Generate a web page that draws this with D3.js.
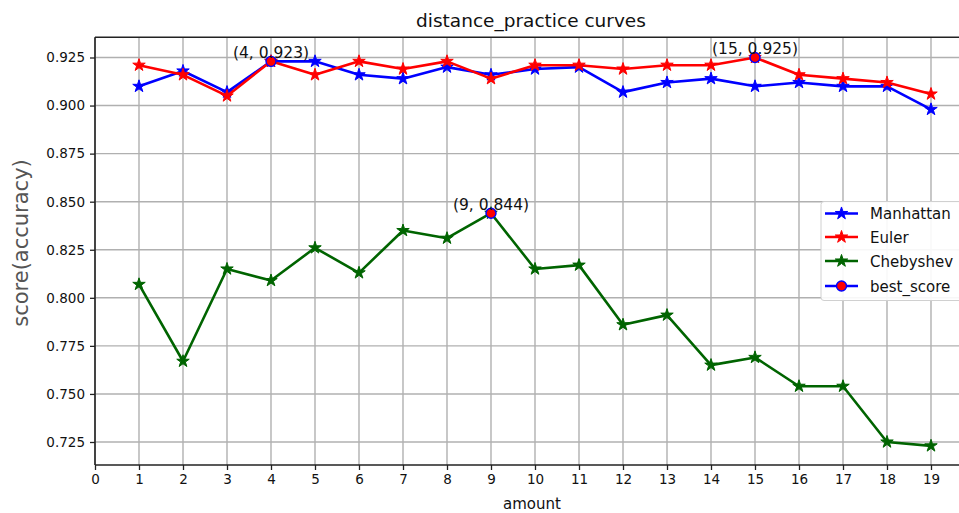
<!DOCTYPE html>
<html>
<head>
<meta charset="utf-8">
<script src="https://cdn.jsdelivr.net/npm/d3@7"></script>
<style>
  html, body { margin: 0; padding: 0; background: #fff; }
  svg { display: block; font-family: "DejaVu Sans", sans-serif; }
</style>
</head>
<body>
<svg id="chart" width="959" height="513"></svg>
<script>
// ---- data ----
const amounts = [1,2,3,4,5,6,7,8,9,10,11,12,13,14,15,16,17,18,19];
const manhattan = [0.910,0.918,0.907,0.923,0.923,0.916,0.914,0.920,0.916,0.919,0.920,0.907,0.912,0.914,0.910,0.912,0.910,0.910,0.898];
const euler     = [0.921,0.916,0.905,0.923,0.916,0.923,0.919,0.923,0.914,0.921,0.921,0.919,0.921,0.921,0.925,0.916,0.914,0.912,0.906];
const chebyshev = [0.807,0.767,0.815,0.809,0.826,0.813,0.835,0.831,0.844,0.815,0.817,0.786,0.791,0.765,0.769,0.754,0.754,0.725,0.723];
const bestX = [4, 15, 9];
const bestY = [0.923, 0.925, 0.844];
const xTicks = [0,1,2,3,4,5,6,7,8,9,10,11,12,13,14,15,16,17,18,19];
const yTicks = [0.725,0.750,0.775,0.800,0.825,0.850,0.875,0.900,0.925];
const seriesNames = ["Manhattan", "Euler", "Chebyshev"];
const seriesColors = ["#0000ff", "#ff0000", "#006400"];

// ---- layout ----
const svg = d3.select("#chart");
const plotLeft = 95, plotTop = 37.3, plotBottom = 465, plotRight = 971;

const x = d3.scaleLinear().domain([0, 19]).range([95, 931]);
const y = d3.scaleLinear().domain([0.725, 0.925]).range([442, 57.5]);

// grid
const grid = svg.append("g");
grid.selectAll("line.vx").data(xTicks).enter().append("line")
  .attr("x1", d => x(d)).attr("x2", d => x(d))
  .attr("y1", plotTop).attr("y2", plotBottom)
  .attr("stroke", "#b0b0b0").attr("stroke-width", 1.4);
grid.selectAll("line.hy").data(yTicks).enter().append("line")
  .attr("x1", plotLeft).attr("x2", plotRight)
  .attr("y1", d => y(d)).attr("y2", d => y(d))
  .attr("stroke", "#b0b0b0").attr("stroke-width", 1.4);

// axes
const xAxis = d3.axisBottom(x).tickValues(xTicks).tickSize(5).tickPadding(4).tickFormat(d3.format("d"));
const yAxis = d3.axisLeft(y).tickValues(yTicks).tickSize(5).tickPadding(5).tickFormat(d3.format(".3f"));

const gx = svg.append("g").attr("transform", `translate(0,${plotBottom})`).call(xAxis);
const gy = svg.append("g").attr("transform", `translate(${plotLeft},0)`).call(yAxis);
[gx, gy].forEach(g => {
  g.select(".domain").remove();
  g.selectAll(".tick line").attr("stroke", "#222").attr("stroke-width", 1.3);
  g.selectAll(".tick text").attr("fill", "#111").style("font-size", "13.5px")
    .style("font-family", "'DejaVu Sans', sans-serif");
});

// spines
svg.append("line").attr("x1", plotLeft).attr("x2", plotRight).attr("y1", plotBottom).attr("y2", plotBottom)
  .attr("stroke", "#222").attr("stroke-width", 1.6);
svg.append("line").attr("x1", plotLeft).attr("x2", plotRight).attr("y1", plotTop).attr("y2", plotTop)
  .attr("stroke", "#222").attr("stroke-width", 1.6);
svg.append("line").attr("x1", plotLeft).attr("x2", plotLeft).attr("y1", plotTop).attr("y2", plotBottom)
  .attr("stroke", "#222").attr("stroke-width", 1.6);

// series
const star = d3.symbol().type(d3.symbolStar).size(48);
const line = d3.line().x((d, i) => x(amounts[i])).y(d => y(d));
[manhattan, euler, chebyshev].forEach((vals, si) => {
  const col = seriesColors[si];
  svg.append("path").datum(vals).attr("d", line)
    .attr("fill", "none").attr("stroke", col).attr("stroke-width", 2.6)
    .attr("stroke-linejoin", "round");
  svg.append("g").selectAll("path").data(vals).enter().append("path")
    .attr("d", star)
    .attr("transform", (d, i) => `translate(${x(amounts[i])},${y(d)})`)
    .attr("fill", col).attr("stroke", col).attr("stroke-width", 1);
});

// best score points
svg.append("g").selectAll("circle").data(bestX).enter().append("circle")
  .attr("cx", d => x(d)).attr("cy", (d, i) => y(bestY[i]))
  .attr("r", 5).attr("fill", "#ff0000").attr("stroke", "#0000ff").attr("stroke-width", 1.4);
svg.append("g").selectAll("text").data(bestX).enter().append("text")
  .attr("x", d => x(d)).attr("y", (d, i) => y(bestY[i]) - 3.5)
  .attr("text-anchor", "middle").style("font-size", "15.5px").attr("fill", "#111")
  .text((d, i) => `(${d}, ${bestY[i].toFixed(3)})`);

// title & labels
svg.append("text").attr("x", 531).attr("y", 26.5).attr("text-anchor", "middle")
  .style("font-size", "18.5px").attr("fill", "#111").text("distance_practice curves");
svg.append("text").attr("x", 532).attr("y", 509).attr("text-anchor", "middle")
  .style("font-size", "15px").attr("fill", "#111").text("amount");
svg.append("text").attr("transform", "translate(28,243) rotate(-90)").attr("text-anchor", "middle")
  .style("font-size", "21px").attr("fill", "#555").text("score(accuracy)");

// legend
const leg = svg.append("g");
leg.append("rect").attr("x", 821).attr("y", 201.5).attr("width", 160).attr("height", 99)
  .attr("rx", 3).attr("fill", "#fff").attr("fill-opacity", 0.9)
  .attr("stroke", "#d0d0d0").attr("stroke-width", 1);
const legendItems = seriesNames.concat(["best_score"]);
const legendRowY = [213.5, 237, 261, 286];
legendItems.forEach((name, i) => {
  const ly = legendRowY[i];
  const col = i < 3 ? seriesColors[i] : "#0000ff";
  leg.append("line").attr("x1", 825).attr("x2", 858).attr("y1", ly).attr("y2", ly)
    .attr("stroke", col).attr("stroke-width", 2.6);
  if (i < 3) {
    leg.append("path").attr("d", star).attr("transform", `translate(841.5,${ly})`)
      .attr("fill", col).attr("stroke", col).attr("stroke-width", 1);
  } else {
    leg.append("circle").attr("cx", 841.5).attr("cy", ly).attr("r", 5)
      .attr("fill", "#ff0000").attr("stroke", "#0000ff").attr("stroke-width", 1.4);
  }
  leg.append("text").attr("x", 870).attr("y", ly + 5.5).style("font-size", "15px")
    .attr("fill", "#111").text(name);
});
</script>
</body>
</html>
